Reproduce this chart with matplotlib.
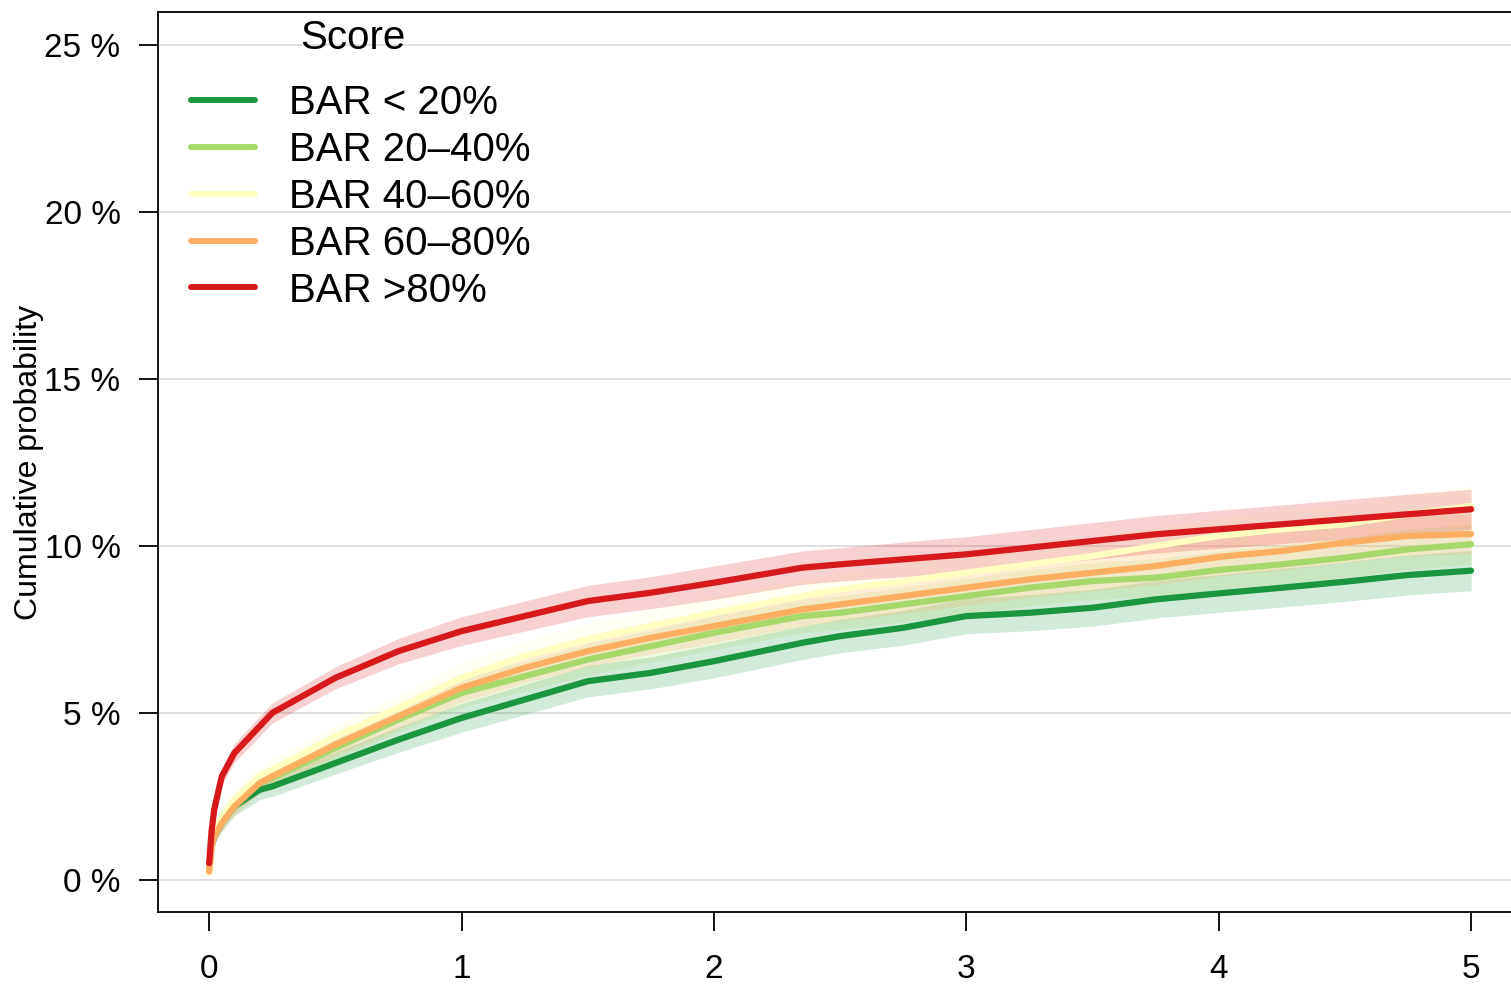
import matplotlib
matplotlib.use("Agg")
import matplotlib.pyplot as plt
import numpy as np

plt.rcParams['font.family'] = ['Liberation Sans', 'DejaVu Sans']

# ------------------------------------------------------------
#   data (time in years, cum. prob in %)
# ------------------------------------------------------------
labels = ["BAR < 20%", "BAR 20\u201340%", "BAR 40\u201360%", "BAR 60\u201380%", "BAR >80%"]
colors = ["#1A9641", "#A6D96A", "#FFFFBF", "#FDAE61", "#D7191C"]

t = [0, 0.01, 0.02, 0.05, 0.1, 0.2, 0.25, 0.5, 0.75, 1.0, 1.25, 1.5, 1.75, 2.0,
     2.35, 2.5, 2.75, 3.0, 3.25, 3.5, 3.75, 4.0, 4.25, 4.5, 4.75, 5.0]

bar_lt20 = [0.3, 1.0, 1.3, 1.7, 2.2, 2.7, 2.8, 3.5, 4.2, 4.85, 5.4, 5.95, 6.2, 6.55,
            7.1, 7.3, 7.55, 7.9, 8.0, 8.15, 8.4, 8.58, 8.75, 8.93, 9.13, 9.26]
bar_20_40 = [0.3, 1.1, 1.4, 1.8, 2.3, 2.9, 3.05, 3.95, 4.8, 5.6, 6.1, 6.6, 7.0, 7.4,
             7.9, 8.0, 8.25, 8.5, 8.75, 8.95, 9.05, 9.28, 9.45, 9.65, 9.9, 10.05]
bar_40_60 = [0.2, 1.0, 1.4, 1.9, 2.4, 3.1, 3.3, 4.3, 5.15, 6.05, 6.7, 7.2, 7.6, 8.0,
             8.5, 8.7, 8.95, 9.2, 9.45, 9.7, 10.0, 10.3, 10.5, 10.65, 10.95, 11.2]
bar_60_80 = [0.25, 1.0, 1.3, 1.7, 2.2, 2.9, 3.1, 4.05, 4.9, 5.75, 6.35, 6.85, 7.25, 7.6,
             8.1, 8.25, 8.5, 8.75, 9.0, 9.2, 9.4, 9.67, 9.85, 10.1, 10.3, 10.36]
bar_gt80 = [0.5, 1.5, 2.1, 3.1, 3.8, 4.6, 5.0, 6.05, 6.85, 7.45, 7.9, 8.35, 8.6, 8.9,
            9.35, 9.45, 9.6, 9.75, 9.95, 10.15, 10.35, 10.5, 10.65, 10.8, 10.95, 11.1]

# half width of the 95% band, same time points
ci_half = [0.1, 0.2, 0.22, 0.25, 0.28, 0.3, 0.3, 0.33, 0.38, 0.43, 0.45, 0.47, 0.48, 0.5,
           0.5, 0.5, 0.52, 0.53, 0.54, 0.55, 0.56, 0.57, 0.58, 0.59, 0.6, 0.6]

series = [bar_lt20, bar_20_40, bar_40_60, bar_60_80, bar_gt80]

yticks = [0, 5, 10, 15, 20, 25]
xticks = [0, 1, 2, 3, 4, 5]

# ------------------------------------------------------------
#   plot
# ------------------------------------------------------------
fig = plt.figure(figsize=(15.11, 9.86), dpi=100)
ax = fig.add_axes([0.1046, 0.0751, 0.8974, 0.9127])

for y in yticks:
    ax.axhline(y, color="#DDDDDD", lw=1.3, zorder=0)

tt = np.array(t)
half = np.array(ci_half)
for vals, col in zip(series, colors):
    v = np.array(vals)
    ax.fill_between(tt, v - half, v + half, color=col, alpha=0.2, lw=0, zorder=1)

for vals, col, lab in zip(series, colors, labels):
    ax.plot(t, vals, color=col, lw=4.5, solid_capstyle="round", label=lab, zorder=2)

ax.set_xlim(-0.2025, 5.17)
ax.set_ylim(-0.96, 25.99)

ax.set_yticks(yticks)
ax.set_yticklabels([f"{y} %" for y in yticks])
ax.set_xticks(xticks)
ax.set_xticklabels([str(x) for x in xticks])
ax.tick_params(axis="y", length=14, width=1.3, pad=13, labelsize=24)
ax.tick_params(axis="x", length=14, width=1.3, pad=16, labelsize=24)

for s in ax.spines.values():
    s.set_linewidth(1.3)

ax.set_ylabel("Cumulative probability", fontsize=23, labelpad=0)

leg = ax.legend(loc="upper left", bbox_to_anchor=(0.0125, 0.9378), frameon=False,
                fontsize=29, handlelength=1.58, handletextpad=0.85,
                labelspacing=0.22, borderaxespad=0.0)
for h in leg.get_lines():
    h.set_linewidth(4.3)
    h.set_solid_capstyle("round")

ax.text(0.1438, 0.9707, "Score", transform=ax.transAxes, fontsize=29,
        ha="center", va="center")

fig.savefig("out.png", dpi=100)
